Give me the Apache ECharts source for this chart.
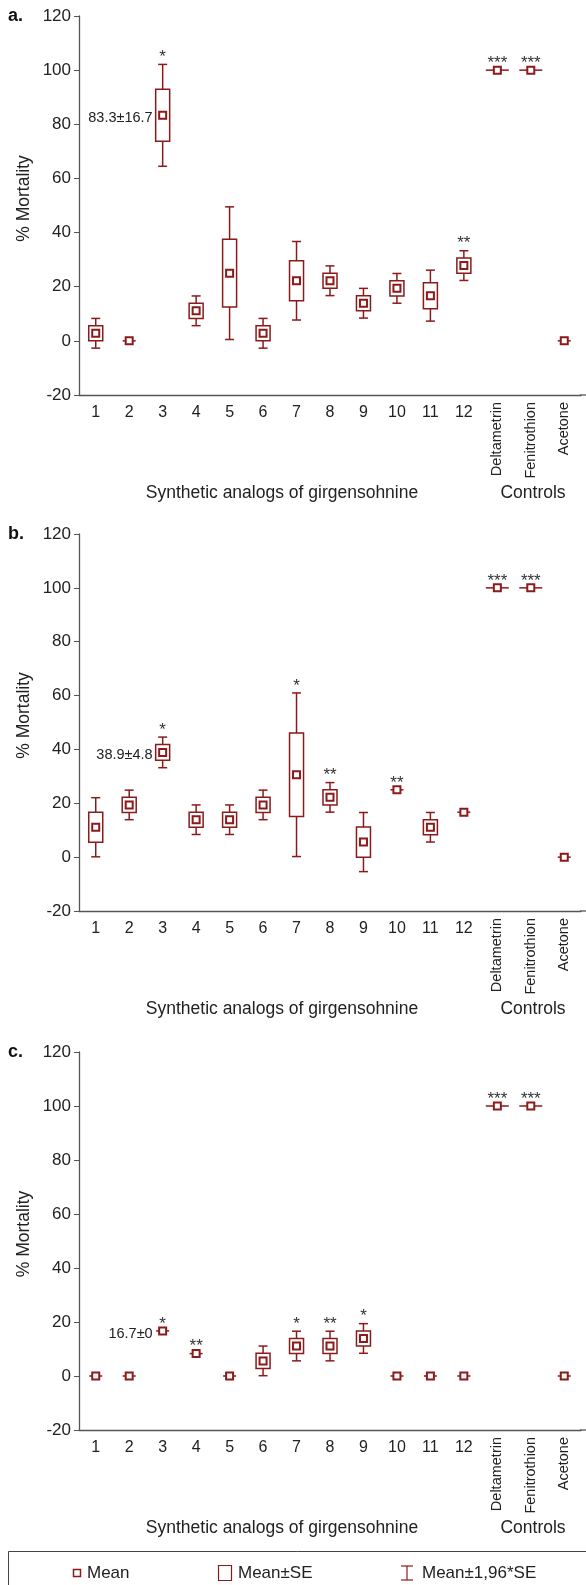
<!DOCTYPE html>
<html>
<head>
<meta charset="utf-8">
<script src="https://cdn.jsdelivr.net/npm/echarts@6/dist/echarts.min.js"></script>
<style>
html,body{margin:0;padding:0;background:#fff;}
#chart{width:586px;height:1585px;}
</style>
</head>
<body>
<div id="chart"></div>
<script>
// ---- data ----
const categories = ['1','2','3','4','5','6','7','8','9','10','11','12','Deltametrin','Fenitrothion','Acetone'];
const yTicks = [-20, 0, 20, 40, 60, 80, 100, 120];

const meanA = [2.8, 0, 83.3, 11.1, 25.0, 2.8, 22.2, 22.2, 13.9, 19.4, 16.7, 27.8, 100, 100, 0];
const seA   = [2.8, 0, 9.6, 2.8, 12.5, 2.8, 7.4, 2.8, 2.8, 2.8, 4.8, 2.8, 0, 0, 0];
const starsA = ['', '', '*', '', '', '', '', '', '', '', '', '**', '***', '***', ''];
const notesA = ['', '', '83.3±16.7', '', '', '', '', '', '', '', '', '', '', '', ''];

const meanB = [11.1, 19.4, 38.9, 13.9, 13.9, 19.4, 30.6, 22.2, 5.6, 25.0, 11.1, 16.7, 100, 100, 0];
const seB   = [5.6, 2.8, 2.9, 2.8, 2.8, 2.8, 15.5, 2.8, 5.6, 0, 2.8, 0, 0, 0, 0];
const starsB = ['', '', '*', '', '', '', '*', '**', '', '**', '', '', '***', '***', ''];
const notesB = ['', '', '38.9±4.8', '', '', '', '', '', '', '', '', '', '', '', ''];

const meanC = [0, 0, 16.7, 8.3, 0, 5.6, 11.1, 11.1, 13.9, 0, 0, 0, 100, 100, 0];
const seC   = [0, 0, 0, 0, 0, 2.8, 2.8, 2.8, 2.8, 0, 0, 0, 0, 0, 0];
const starsC = ['', '', '*', '**', '', '', '*', '**', '*', '', '', '', '***', '***', ''];
const notesC = ['', '', '16.7±0', '', '', '', '', '', '', '', '', '', '', '', ''];

const panelLetters = ['a.', 'b.', 'c.'];
const xTitle = 'Synthetic analogs of girgensohnine';
const ctrlTitle = 'Controls';
const yTitle = '% Mortality';
const legendTexts = ['Mean', 'Mean±SE', 'Mean±1,96*SE'];

// ---- styling / layout ----
const RED = '#8b1a1a';
const AX = '#555';
const TXT = '#222';
const FONT = '"Liberation Sans", Arial, sans-serif';

const panels = [
  {mean: meanA, se: seA, stars: starsA, notes: notesA, top: 16, bottom: 395},
  {mean: meanB, se: seB, stars: starsB, notes: notesB, top: 534, bottom: 911},
  {mean: meanC, se: seC, stars: starsC, notes: notesC, top: 1052, bottom: 1430}
];

const chart = echarts.init(document.getElementById('chart'), null, {renderer: 'canvas'});

const grids = [], xAxes = [], yAxes = [], series = [], graphics = [];

panels.forEach((p, k) => {
  grids.push({left: 79, width: 502, top: p.top, height: p.bottom - p.top});
  xAxes.push({
    type: 'category', gridIndex: k, data: categories,
    axisLine: {onZero: false, lineStyle: {color: AX, width: 1.3}},
    axisTick: {alignWithLabel: true, length: 5, lineStyle: {color: AX}},
    axisLabel: {interval: 0, margin: 10, color: TXT, fontSize: 16, fontFamily: FONT,
      formatter: (v, i) => i < 12 ? v : ''}
  });
  xAxes.push({
    type: 'category', gridIndex: k, data: categories, position: 'bottom',
    axisLine: {show: false}, axisTick: {show: false},
    axisLabel: {interval: 0, rotate: 90, margin: 7, color: TXT, fontSize: 14.5, fontFamily: FONT,
      formatter: (v, i) => i >= 12 ? v : ''}
  });
  yAxes.push({
    type: 'value', gridIndex: k, min: yTicks[0], max: yTicks[yTicks.length - 1], interval: 20,
    splitLine: {show: false},
    axisLine: {show: true, lineStyle: {color: AX, width: 1.3}},
    axisTick: {show: true, length: 5, lineStyle: {color: AX}},
    axisLabel: {color: TXT, fontSize: 17, fontFamily: FONT, margin: 8}
  });
  const data = categories.map((c, i) => [i, p.mean[i], p.se[i]]);
  series.push({
    type: 'custom', xAxisIndex: 2 * k, yAxisIndex: k, data: data,
    renderItem: function (params, api) {
      const i = api.value(0), m = api.value(1), se = api.value(2);
      const ci = 1.96 * se;
      const c = api.coord([i, m]);
      const x = c[0];
      const ym = c[1];
      const children = [];
      const boxW = 14, capW = 9, ms = 7;
      let topY = ym;
      if (se > 0) {
        const yHi = api.coord([i, m + ci])[1];
        const yLo = api.coord([i, m - ci])[1];
        const bHi = api.coord([i, m + se])[1];
        const bLo = api.coord([i, m - se])[1];
        topY = yHi;
        children.push({type: 'line', shape: {x1: x, y1: yHi, x2: x, y2: yLo}, style: {stroke: RED, lineWidth: 1.5}});
        children.push({type: 'line', shape: {x1: x - capW / 2, y1: yHi, x2: x + capW / 2, y2: yHi}, style: {stroke: RED, lineWidth: 1.5}});
        children.push({type: 'line', shape: {x1: x - capW / 2, y1: yLo, x2: x + capW / 2, y2: yLo}, style: {stroke: RED, lineWidth: 1.5}});
        children.push({type: 'rect', shape: {x: x - boxW / 2, y: bHi, width: boxW, height: bLo - bHi}, style: {fill: '#fff', stroke: RED, lineWidth: 1.5}});
      } else {
        const w = (i === 12 || i === 13) ? 23 : 13;
        children.push({type: 'line', shape: {x1: x - w / 2, y1: ym, x2: x + w / 2, y2: ym}, style: {stroke: RED, lineWidth: 1.5}});
      }
      children.push({type: 'rect', shape: {x: x - ms / 2, y: ym - ms / 2, width: ms, height: ms}, style: {fill: '#fff', stroke: RED, lineWidth: 2}});
      const star = p.stars[params.dataIndex];
      if (star) {
        children.push({type: 'text', style: {text: star, x: x, y: topY - 7, align: 'center', verticalAlign: 'middle', fill: '#333', font: '17px ' + FONT}});
      }
      const note = p.notes[params.dataIndex];
      if (note) {
        children.push({type: 'text', style: {text: note, x: x - 10, y: ym + 3, align: 'right', verticalAlign: 'middle', fill: TXT, font: '14.5px ' + FONT}});
      }
      return {type: 'group', children: children};
    },
    z: 10
  });
  const mid = (p.top + p.bottom) / 2;
  graphics.push({type: 'text', x: 8, y: p.top, style: {text: panelLetters[k], verticalAlign: 'middle', fill: '#111', font: 'bold 18px ' + FONT}});
  graphics.push({type: 'text', x: 24, y: mid - 7, rotation: Math.PI / 2,
    style: {text: yTitle, align: 'center', verticalAlign: 'middle', fill: TXT, font: '17.5px ' + FONT}});
  graphics.push({type: 'text', x: 282, y: p.bottom + 98, style: {text: xTitle, align: 'center', verticalAlign: 'middle', fill: TXT, font: '17.5px ' + FONT}});
  graphics.push({type: 'text', x: 533, y: p.bottom + 98, style: {text: ctrlTitle, align: 'center', verticalAlign: 'middle', fill: TXT, font: '17.5px ' + FONT}});
  graphics.push({type: 'line', shape: {x1: 580, y1: p.bottom, x2: 586, y2: p.bottom}, style: {stroke: AX, lineWidth: 1.3}});
});

// legend box
const LY = 1573;
graphics.push({type: 'rect', shape: {x: 8.5, y: 1551.5, width: 600, height: 80}, style: {fill: 'none', stroke: '#444', lineWidth: 1}});
graphics.push({type: 'rect', shape: {x: 73.5, y: LY - 3.5, width: 7, height: 7}, style: {fill: '#fff', stroke: RED, lineWidth: 1.5}});
graphics.push({type: 'text', x: 87, y: LY, style: {text: legendTexts[0], verticalAlign: 'middle', fill: TXT, font: '17px ' + FONT}});
graphics.push({type: 'rect', shape: {x: 218.5, y: LY - 7.5, width: 13, height: 15}, style: {fill: '#fff', stroke: RED, lineWidth: 1.2}});
graphics.push({type: 'text', x: 238, y: LY, style: {text: legendTexts[1], verticalAlign: 'middle', fill: TXT, font: '17px ' + FONT}});
graphics.push({type: 'line', shape: {x1: 407, y1: LY - 7, x2: 407, y2: LY + 7}, style: {stroke: RED, lineWidth: 1.2}});
graphics.push({type: 'line', shape: {x1: 401, y1: LY - 7, x2: 413, y2: LY - 7}, style: {stroke: RED, lineWidth: 1.2}});
graphics.push({type: 'line', shape: {x1: 401, y1: LY + 7, x2: 413, y2: LY + 7}, style: {stroke: RED, lineWidth: 1.2}});
graphics.push({type: 'text', x: 422, y: LY, style: {text: legendTexts[2], verticalAlign: 'middle', fill: TXT, font: '17px ' + FONT}});

chart.setOption({
  animation: false,
  backgroundColor: '#fff',
  grid: grids,
  xAxis: xAxes,
  yAxis: yAxes,
  series: series,
  graphic: graphics
});
</script>
</body>
</html>
